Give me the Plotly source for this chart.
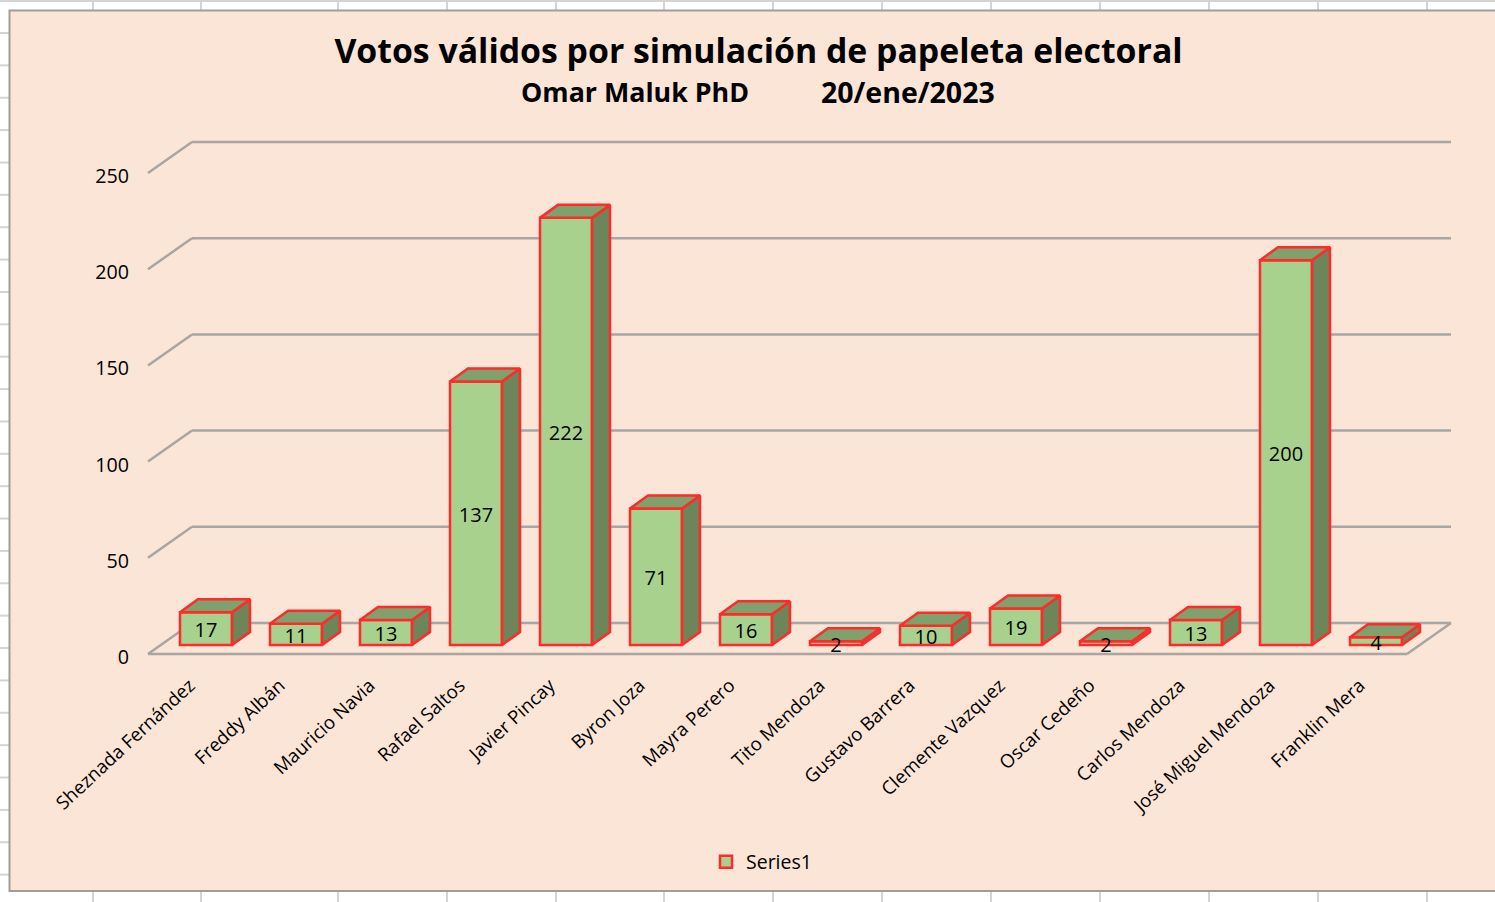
import plotly.graph_objects as go

categories = ["Sheznada Fernández", "Freddy Albán", "Mauricio Navia", "Rafael Saltos", "Javier Pincay",
              "Byron Joza", "Mayra Perero", "Tito Mendoza", "Gustavo Barrera", "Clemente Vazquez",
              "Oscar Cedeño", "Carlos Mendoza", "José Miguel Mendoza", "Franklin Mera"]
votes = [17, 11, 13, 137, 222, 71, 16, 2, 10, 19, 2, 13, 200, 4]
y_ticks = [0, 50, 100, 150, 200, 250]
title_text = "Votos válidos por simulación de papeleta electoral"
subtitle_author = "Omar Maluk PhD"
subtitle_date = "20/ene/2023"
series_name = "Series1"

W, H = 1495, 902
L, R, T, B = 140, 1459, 134, 662      # plot rectangle in page pixels
FLOOR_PX, LEFT_PX, RIGHT_FRONT_PX = 654, 148, 1407
PX_PER_CAT = 90.0
PX_PER_VAL = 1.924
X0 = 206                               # pixel of first category
def ux(px): return (px - X0) / PX_PER_CAT
def uy(px): return px / PX_PER_VAL
def pfx(px): return (px - L) / (R - L)
def pfy(py): return (B - py) / (B - T)

wall_dx, wall_dy = 44 / PX_PER_CAT, uy(31)
front_right = ux(RIGHT_FRONT_PX)
front_left = ux(LEFT_PX)
bar_w = 52 / PX_PER_CAT
bar_dx, bar_dy = 18 / PX_PER_CAT, uy(13)
bar_base = uy(9)
idx = list(range(len(categories)))

GREEN, TOP, SIDE, RED, GRID = "#A9D18E", "#80A06C", "#6D8559", "#FF2A2A", "#A8A5A2"
FONT = "Open Sans"

shapes = []
# sheet behind the chart
for px in [93, 201, 338, 447, 556, 664, 773, 882, 991, 1100, 1209, 1318, 1427]:
    shapes.append(dict(type="line", xref="paper", yref="paper", x0=pfx(px), x1=pfx(px), y0=pfy(0), y1=pfy(H),
                       line=dict(color="#D4D4D4", width=2), layer="below"))
for k in range(28):
    py = 33 + 32.37 * k
    shapes.append(dict(type="line", xref="paper", yref="paper", x0=pfx(0), x1=pfx(9), y0=pfy(py), y1=pfy(py),
                       line=dict(color="#D4D4D4", width=2), layer="below"))
shapes.append(dict(type="rect", xref="paper", yref="paper", x0=pfx(0), x1=pfx(W), y0=pfy(0), y1=pfy(2),
                   fillcolor="#D4D4D4", line=dict(width=0), layer="below"))
shapes.append(dict(type="rect", xref="paper", yref="paper", x0=pfx(9.5), x1=pfx(W + 10), y0=pfy(10.5), y1=pfy(891),
                   fillcolor="#FBE5D6", line=dict(color="#A09D9B", width=2), layer="below"))
# wall gridlines and floor
for t in y_ticks:
    shapes.append(dict(type="line", x0=front_left, y0=t, x1=front_left + wall_dx, y1=t + wall_dy,
                       line=dict(color=GRID, width=2.5), layer="below"))
    shapes.append(dict(type="line", x0=front_left + wall_dx, y0=t + wall_dy, x1=front_right + wall_dx, y1=t + wall_dy,
                       line=dict(color=GRID, width=2.5), layer="below"))
shapes.append(dict(type="line", x0=front_left, y0=0, x1=front_right, y1=0, line=dict(color=GRID, width=2.5), layer="below"))
shapes.append(dict(type="line", x0=front_right, y0=0, x1=front_right + wall_dx, y1=wall_dy,
                   line=dict(color=GRID, width=2.5), layer="below"))

fig = go.Figure()
fig.add_trace(go.Bar(x=idx, y=votes, base=[bar_base] * len(votes), width=bar_w, name=series_name,
                     marker=dict(color=GREEN, line=dict(color=RED, width=2.5)), showlegend=True, hoverinfo="skip"))

side_x, side_y, top_x, top_y = [], [], [], []
for i, v in zip(idx, votes):
    xl, xr = i - bar_w / 2, i + bar_w / 2
    yb, yt = bar_base, bar_base + v
    side_x += [xr, xr + bar_dx, xr + bar_dx, xr, xr, None]
    side_y += [yb, yb + bar_dy, yt + bar_dy, yt, yb, None]
    top_x += [xl, xl + bar_dx, xr + bar_dx, xr, xl, None]
    top_y += [yt, yt + bar_dy, yt + bar_dy, yt, yt, None]
fig.add_trace(go.Scatter(x=side_x, y=side_y, mode="lines", fill="toself", fillcolor=SIDE,
                         line=dict(color=RED, width=2.5), showlegend=False, hoverinfo="skip"))
fig.add_trace(go.Scatter(x=top_x, y=top_y, mode="lines", fill="toself", fillcolor=TOP,
                         line=dict(color=RED, width=2.5), showlegend=False, hoverinfo="skip"))
fig.add_trace(go.Scatter(x=idx, y=[bar_base + v / 2 - 1.9 for v in votes], mode="text",
                         text=[str(v) for v in votes], textposition="middle center",
                         textfont=dict(family=FONT, size=20, color="#000000"), showlegend=False, hoverinfo="skip"))

y_low = uy(FLOOR_PX - B)
y_high = uy(FLOOR_PX - T)
fig.update_layout(
    width=W, height=H, margin=dict(l=L, r=W - R, t=T, b=H - B, autoexpand=False),
    paper_bgcolor="#FFFFFF", plot_bgcolor="rgba(0,0,0,0)",
    font=dict(family=FONT, size=19, color="#000000"),
    barmode="overlay", shapes=shapes, hovermode=False,
    xaxis=dict(range=[ux(L), ux(R)], tickmode="array", tickvals=[i - 0.18 for i in idx], ticktext=categories,
               tickangle=-43, showgrid=False, zeroline=False, showline=False, ticks="", ticklabelstandoff=8,
               tickfont=dict(family=FONT, size=18.7)),
    yaxis=dict(range=[y_low, y_high], tickmode="array", tickvals=y_ticks, showgrid=False, zeroline=False,
               showline=False, ticks="", ticklabelstandoff=10, ticklabelshift=3,
               tickfont=dict(family=FONT, size=19.7)),
    legend=dict(orientation="h", x=pfx(706), y=pfy(862), xanchor="left", yanchor="middle",
                bgcolor="rgba(0,0,0,0)", font=dict(family=FONT, size=19.5)),
    title=dict(text=title_text, x=(335 + 1182) / 2 / W, xanchor="center", y=1 - 51 / H, yanchor="middle",
               font=dict(family=FONT, size=33.8, color="#000000", weight="bold")),
    annotations=[
        dict(text=subtitle_author, xref="paper", yref="paper", x=pfx(634.5), y=pfy(92), xanchor="center",
             yanchor="middle", showarrow=False, font=dict(family=FONT, size=26.8, color="#000000", weight="bold")),
        dict(text=subtitle_date, xref="paper", yref="paper", x=pfx(908), y=pfy(92), xanchor="center",
             yanchor="middle", showarrow=False, font=dict(family=FONT, size=28.5, color="#000000", weight="bold")),
    ],
)
fig.write_html("out.html", config=dict(displayModeBar=False), post_script="document.body.style.margin='0';")
